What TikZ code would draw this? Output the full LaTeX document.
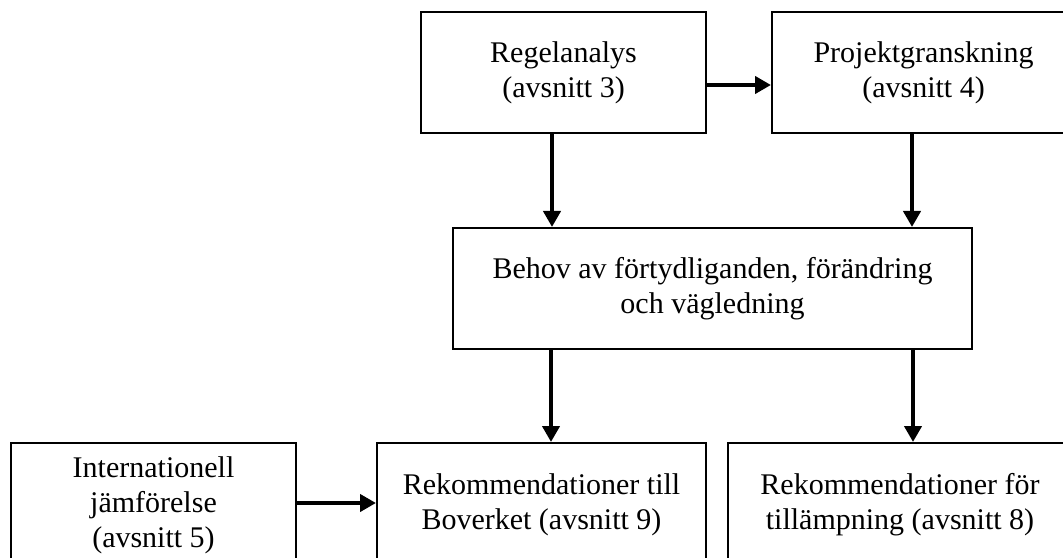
\documentclass[tikz,border=0pt]{standalone}
\usepackage{fontspec}
\setmainfont{Liberation Serif}
\usetikzlibrary{arrows.meta}

\begin{document}
\begin{tikzpicture}[x=0.4pt, y=-0.4pt,
    box/.style={draw, line width=0.8pt, align=center, inner sep=0pt,
        font=\fontsize{12}{14}\selectfont,
        execute at begin node={\rule{0pt}{13pt}}},
    arr/.style={line width=1.8pt, -{Triangle[length=6.4pt, width=6.8pt]}}]
    \useasboundingbox (0,0) rectangle (1063,558);

    % Top row
    \node[box, minimum width=114pt, minimum height=48.4pt] (regel) at (563.5,72.5)
        {Regelanalys\\(avsnitt 3)};
    \node[box, minimum width=121.2pt, minimum height=48.4pt] (projekt) at (923.5,72.5)
        {Projektgranskning\\(avsnitt 4)};
    \draw[arr] ([yshift=-5pt]regel.east) -- ([yshift=-5pt]projekt.west);

    % Middle
    \node[box, minimum width=207.6pt, minimum height=48.4pt] (behov) at (712.5,288.5)
        {Behov av förtydliganden, förändring\\och vägledning};
    \draw[arr] ([xshift=-4.6pt]regel.south) -- ([xshift=-4.6pt]regel.south |- behov.north);
    \draw[arr] ([xshift=-4.6pt]projekt.south) -- ([xshift=-4.6pt]projekt.south |- behov.north);

    % Bottom row
    \node[box, minimum width=114pt, minimum height=49.6pt] (intl) at (153.5,505)
        {Internationell\\jämförelse\\(avsnitt 5)};
    \node[box, minimum width=131.6pt, minimum height=49.6pt] (bover) at (541.5,505)
        {Rekommendationer till\\Boverket (avsnitt 9)};
    \node[box, minimum width=137.6pt, minimum height=49.6pt] (tillamp) at (900,505)
        {Rekommendationer för\\tillämpning (avsnitt 8)};
    \draw[arr] ([xshift=3.8pt]bover.north |- behov.south) -- ([xshift=3.8pt]bover.north);
    \draw[arr] ([xshift=5.2pt]tillamp.north |- behov.south) -- ([xshift=5.2pt]tillamp.north);
    \draw[arr] ([yshift=0.8pt]intl.east) -- ([yshift=0.8pt]bover.west);
\end{tikzpicture}
\end{document}
